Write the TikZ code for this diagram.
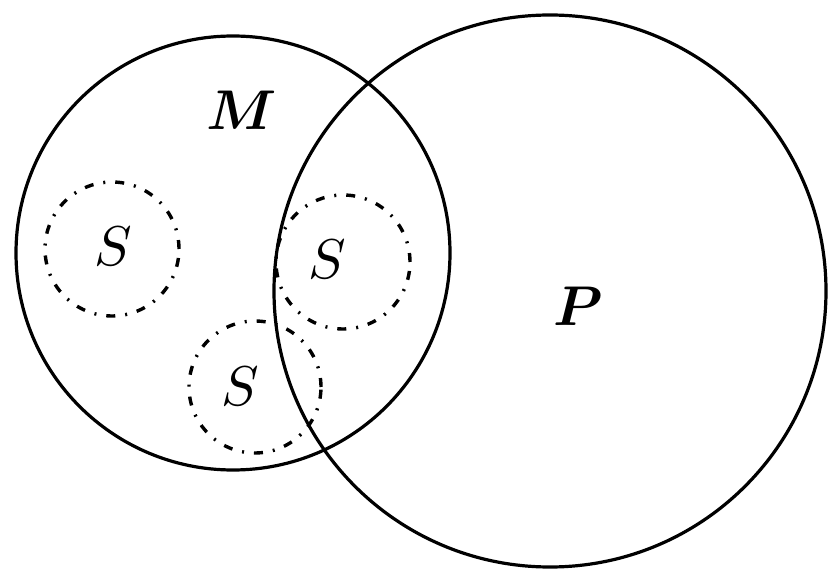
\documentclass[tikz,border=0pt]{standalone}
\usepackage{amsmath}
\usepackage{tikz}

\begin{document}
\begin{tikzpicture}[x=1pt,y=-1pt,
    set/.style={circle,draw,line width=3.2pt,inner sep=0pt,outer sep=0pt},
    sub/.style={circle,draw,line width=3.4pt,inner sep=0pt,outer sep=0pt,dash pattern=on 9pt off 10pt on 2pt off 10pt},
    lbl/.style={scale=5.6}]
    \useasboundingbox (0,0) rectangle (828,569);
    \node[set,minimum size=434pt] (M) at (233,253) {};
    \node[set,minimum size=552pt] (P) at (550,291) {};
    \node[sub,minimum size=134pt] (S1) at (112,249) {};
    \node[sub,minimum size=134pt] (S2) at (343,262) {};
    \node[sub,minimum size=132pt] (S3) at (255,387) {};

    \node[lbl] (lM) at (242,110) {$\boldsymbol{M}$};
    \node[lbl] (lP) at (578,306) {$\boldsymbol{P}$};
    \node[lbl] (lS1) at (113,246) {$S$};
    \node[lbl] (lS2) at (327,259) {$S$};
    \node[lbl] (lS3) at (240,386) {$S$};
\end{tikzpicture}
\end{document}
